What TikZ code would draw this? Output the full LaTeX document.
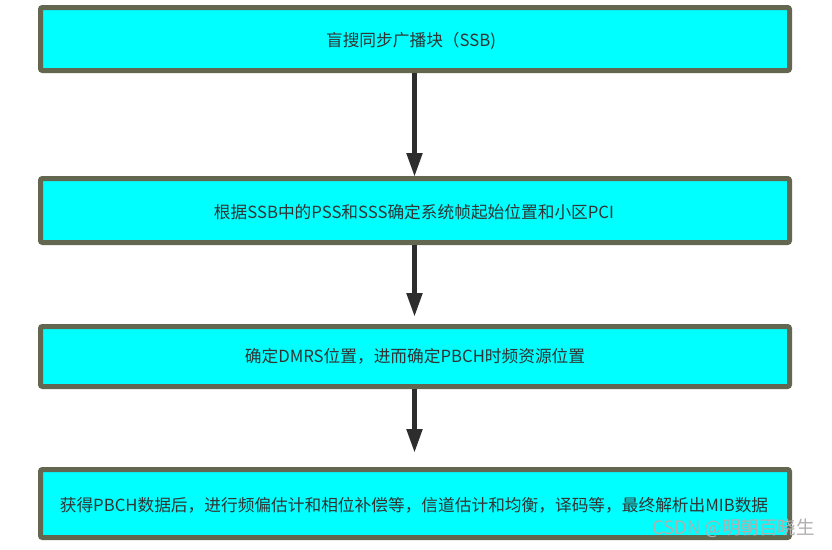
\documentclass[tikz,border=0pt]{standalone}
\usepackage{fontspec}
\setmainfont{Noto Sans CJK SC}
\usetikzlibrary{arrows.meta}
\definecolor{boxfill}{RGB}{0,255,255}
\definecolor{boxline}{RGB}{99,103,80}
\definecolor{txt}{RGB}{51,51,51}
\definecolor{arr}{RGB}{45,45,45}
\definecolor{wmk}{RGB}{175,175,175}
\tikzset{
  stepbox/.style={draw=boxline, fill=boxfill, line width=5pt, rounded corners=2pt},
  lbl/.style={text=txt, font=\fontsize{16.7}{19}\selectfont, inner sep=0pt},
  flow/.style={draw=arr, line width=5pt, -{Triangle[length=24pt,width=15pt]}, shorten >=0pt}
}
\begin{document}
\begin{tikzpicture}[x=1pt,y=-1pt]
\useasboundingbox (0,0) rectangle (832,549);
\path[stepbox] (40.5,7.5) rectangle (789.5,70.5);
\path[stepbox] (40.5,178.5) rectangle (789.5,242.5);
\path[stepbox] (40.5,326.5) rectangle (789.5,386.5);
\path[stepbox] (40.5,469.5) rectangle (789.5,537.5);
\node[lbl] (t1) at (411,41) {盲搜同步广播块（SSB)};
\node[lbl] (t2) at (414,212) {根据SSB中的PSS和SSS确定系统帧起始位置和小区PCI};
\node[lbl] (t3) at (415,356) {确定DMRS位置，进而确定PBCH时频资源位置};
\node[lbl] (t4) at (414,505) {获得PBCH数据后，进行频偏估计和相位补偿等，信道估计和均衡，译码等，最终解析出MIB数据};
\coordinate (a1s) at (414.5,73);
\coordinate (a1e) at (414.5,177);
\coordinate (a2s) at (414.5,245);
\coordinate (a2e) at (414.5,317);
\coordinate (a3s) at (414.5,389);
\coordinate (a3e) at (414.5,453);
\draw[flow] (a1s) -- (a1e);
\draw[flow] (a2s) -- (a2e);
\draw[flow] (a3s) -- (a3e);
\node[text=wmk, font=\fontsize{18.5}{21}\selectfont, inner sep=0pt, anchor=east] (wm) at (815,528) {CSDN @明朝百晓生};
\end{tikzpicture}
\end{document}
